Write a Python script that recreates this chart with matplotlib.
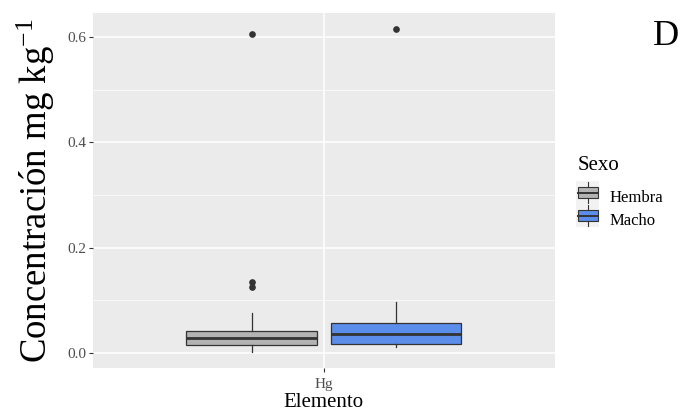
import matplotlib
matplotlib.use('Agg')
import matplotlib.pyplot as plt
from matplotlib.legend_handler import HandlerBase
from matplotlib.patches import Rectangle
from matplotlib.lines import Line2D

# Data (box summaries per sex)
grupos = ['Hembra', 'Macho']
colores = ['#B3B3B3', '#5B8DEB']
q1 = [0.0146, 0.0171]
mediana = [0.029, 0.0367]
q3 = [0.0418, 0.0575]
bigote_bajo = [0.0025, 0.012]
bigote_alto = [0.0754, 0.0974]
atipicos = [[0.6056, 0.135, 0.125], [0.615]]
elemento = ['Hg']

plt.rcParams['font.family'] = ['Liberation Serif', 'DejaVu Serif']
plt.rcParams['mathtext.fontset'] = 'custom'
plt.rcParams['mathtext.rm'] = 'Liberation Serif'
plt.rcParams['mathtext.it'] = 'Liberation Serif:italic'
plt.rcParams['mathtext.bf'] = 'Liberation Serif:bold'

fig = plt.figure(figsize=(6.86, 4.12), dpi=100)
ax = fig.add_axes([0.1356, 0.1068, 0.673, 0.8616])

stats = []
for i, g in enumerate(grupos):
    stats.append({'label': g, 'q1': q1[i], 'med': mediana[i], 'q3': q3[i],
                  'whislo': bigote_bajo[i], 'whishi': bigote_alto[i],
                  'fliers': atipicos[i]})

edge = '#333333'
bp = ax.bxp(stats, positions=[0.8125, 1.1875], widths=0.34, patch_artist=True,
            showcaps=False,
            boxprops=dict(edgecolor=edge, linewidth=0.9),
            medianprops=dict(color=edge, linewidth=2),
            whiskerprops=dict(color=edge, linewidth=0.9),
            flierprops=dict(marker='o', markerfacecolor='#333333',
                            markeredgecolor='#333333', markersize=3.8))
for patch, c in zip(bp['boxes'], colores):
    patch.set_facecolor(c)

ax.set_facecolor('#EBEBEB')
for s in ax.spines.values():
    s.set_visible(False)
ax.set_xlim(0.4, 1.6)
ax.set_ylim(-0.0285, 0.6455)
ax.set_xticks([1])
ax.set_xticklabels(elemento)
ax.set_yticks([0.0, 0.2, 0.4, 0.6])
ax.set_yticklabels(['0.0', '0.2', '0.4', '0.6'])
ax.set_yticks([0.1, 0.3, 0.5], minor=True)
ax.grid(True, which='major', color='white', linewidth=1.1)
ax.grid(True, which='minor', axis='y', color='white', linewidth=0.5)
ax.set_axisbelow(True)
ax.tick_params(which='major', length=3, color='#333333', labelsize=11,
               labelcolor='#4D4D4D', width=0.8, pad=2)
ax.tick_params(axis='x', pad=4)
ax.tick_params(which='minor', length=0)

ax.set_xlabel('Elemento', fontsize=15, labelpad=1.5)
ax.set_ylabel('Concentración mg kg$^{\\mathrm{-1}}$', fontsize=26.5, labelpad=7)

fig.text(0.99, 0.912, 'D', fontsize=26, ha='right', va='center')


class BoxHandler(HandlerBase):
    def create_artists(self, legend, orig, xd, yd, w, h, fontsize, trans):
        color = orig.get_facecolor()
        bg = Rectangle((xd - 1, yd - 3), w + 2, h + 6, facecolor='#F2F2F2',
                       edgecolor='none', transform=trans)
        box = Rectangle((xd, yd + h * 0.12), w, h * 0.76, facecolor=color,
                        edgecolor=edge, linewidth=0.8, transform=trans)
        med = Line2D([xd, xd + w], [yd + h / 2] * 2, color=edge, lw=1.4,
                     transform=trans)
        wt = Line2D([xd + w / 2] * 2, [yd + h * 0.88, yd + h + 2], color=edge,
                    lw=0.8, transform=trans)
        wb = Line2D([xd + w / 2] * 2, [yd - 2, yd + h * 0.12], color=edge,
                    lw=0.8, transform=trans)
        return [bg, box, med, wt, wb]


handles = [Rectangle((0, 0), 1, 1, facecolor=c) for c in colores]
leg = fig.legend(handles, grupos, title='Sexo', loc='upper left',
                 bbox_to_anchor=(0.825, 0.65), frameon=False, fontsize=12,
                 title_fontsize=15, handlelength=1.2, handleheight=1.0,
                 handletextpad=0.7, labelspacing=0.35, borderpad=0.2,
                 handler_map={Rectangle: BoxHandler()})
leg._legend_box.align = 'left'
leg._legend_box.sep = 10

fig.savefig('out.png', dpi=100)
